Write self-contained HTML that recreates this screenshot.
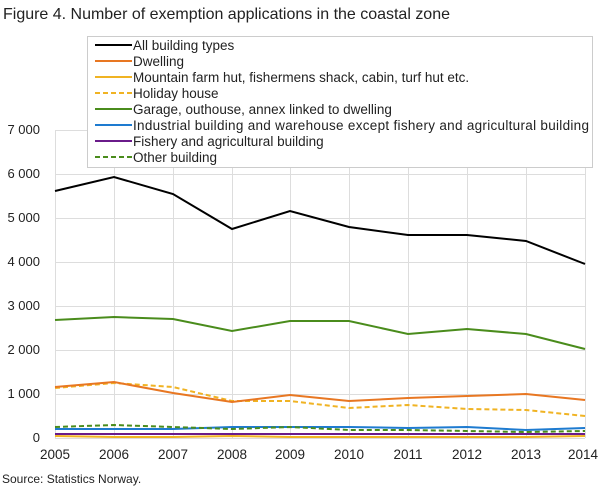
<!DOCTYPE html><html><head><style>body{margin:0;background:#fff;font-family:"Liberation Sans",sans-serif}</style></head><body>
<svg width="609" height="488" xmlns="http://www.w3.org/2000/svg" font-family="Liberation Sans, sans-serif">
<text x="3" y="19" font-size="16" fill="#222" textLength="447">Figure 4. Number of exemption applications in the coastal zone</text>
<g stroke="#ddd" stroke-width="1">
<line x1="55" y1="130.5" x2="585" y2="130.5"/><line x1="55" y1="174.5" x2="585" y2="174.5"/><line x1="55" y1="218.5" x2="585" y2="218.5"/><line x1="55" y1="262.5" x2="585" y2="262.5"/><line x1="55" y1="306.5" x2="585" y2="306.5"/><line x1="55" y1="350.5" x2="585" y2="350.5"/><line x1="55" y1="394.5" x2="585" y2="394.5"/><line x1="55" y1="438.5" x2="585" y2="438.5"/>
<line x1="55.5" y1="130" x2="55.5" y2="438"/><line x1="114.5" y1="130" x2="114.5" y2="438"/><line x1="173.5" y1="130" x2="173.5" y2="438"/><line x1="232.5" y1="130" x2="232.5" y2="438"/><line x1="290.5" y1="130" x2="290.5" y2="438"/><line x1="349.5" y1="130" x2="349.5" y2="438"/><line x1="408.5" y1="130" x2="408.5" y2="438"/><line x1="467.5" y1="130" x2="467.5" y2="438"/><line x1="526.5" y1="130" x2="526.5" y2="438"/><line x1="585.5" y1="130" x2="585.5" y2="438"/>
</g>
<g font-size="13" fill="#222" text-anchor="end">
<text x="40" y="134">7 000</text><text x="40" y="178">6 000</text><text x="40" y="222">5 000</text><text x="40" y="266">4 000</text><text x="40" y="310">3 000</text><text x="40" y="354">2 000</text><text x="40" y="398">1 000</text><text x="40" y="442">0</text>
</g>
<g font-size="13.5" fill="#222" text-anchor="middle">
<text x="55" y="459">2005</text><text x="114" y="459">2006</text><text x="173" y="459">2007</text><text x="232" y="459">2008</text><text x="290" y="459">2009</text><text x="349" y="459">2010</text><text x="408" y="459">2011</text><text x="467" y="459">2012</text><text x="526" y="459">2013</text><text x="583" y="459">2014</text>
</g>
<text x="2" y="483" font-size="12" fill="#222">Source: Statistics Norway.</text>
<g fill="none" stroke-width="2">
<polyline stroke="#f0b323" points="55,436 114,437 173,437 232,436 290,437 349,437 408,437 467,437 526,437 585,436"/>
<polyline stroke="#6a1b8a" points="55,434 114,434 173,434 232,434 290,434 349,434 408,434 467,434 526,434 585,434"/>
<polyline stroke="#1e7bd0" points="55,429 114,429 173,429 232,427 290,427 349,427 408,428 467,427 526,430 585,428"/>
<polyline stroke="#4a8c1c" stroke-dasharray="5,3" points="55,427 114,425 173,427 232,429 290,427 349,430 408,430 467,431 526,432 585,431"/>
<polyline stroke="#f0b323" stroke-dasharray="5,3" points="55,388 114,383 173,387 232,401 290,401 349,408 408,405 467,409 526,410 585,416"/>
<polyline stroke="#e87722" points="55,387 114,382 173,393 232,402 290,395 349,401 408,398 467,396 526,394 585,400"/>
<polyline stroke="#4a8c1c" points="55,320 114,317 173,319 232,331 290,321 349,321 408,334 467,329 526,334 585,349"/>
<polyline stroke="#000" points="55,191 114,177 173,194 232,229 290,211 349,227 408,235 467,235 526,241 585,264"/>
</g>
<rect x="87.5" y="36.5" width="505" height="131" fill="#fff" stroke="#ccc"/>
<g stroke-width="2">
<line x1="95" y1="45" x2="132" y2="45" stroke="#000"/>
<line x1="95" y1="61" x2="132" y2="61" stroke="#e87722"/>
<line x1="95" y1="77" x2="132" y2="77" stroke="#f0b323"/>
<line x1="95" y1="93" x2="132" y2="93" stroke="#f0b323" stroke-dasharray="5,3"/>
<line x1="95" y1="109" x2="132" y2="109" stroke="#4a8c1c"/>
<line x1="95" y1="125" x2="132" y2="125" stroke="#1e7bd0"/>
<line x1="95" y1="141" x2="132" y2="141" stroke="#6a1b8a"/>
<line x1="95" y1="157" x2="132" y2="157" stroke="#4a8c1c" stroke-dasharray="5,3"/>
</g>
<g font-size="13.5" fill="#222">
<text x="133" y="50">All building types</text>
<text x="133" y="66">Dwelling</text>
<text x="133" y="82">Mountain farm hut, fishermens shack, cabin, turf hut etc.</text>
<text x="133" y="98">Holiday house</text>
<text x="133" y="114">Garage, outhouse, annex linked to dwelling</text>
<text x="133" y="130" textLength="456">Industrial building and warehouse except fishery and agricultural building</text>
<text x="133" y="146">Fishery and agricultural building</text>
<text x="133" y="162">Other building</text>
</g>
</svg>
</body></html>
